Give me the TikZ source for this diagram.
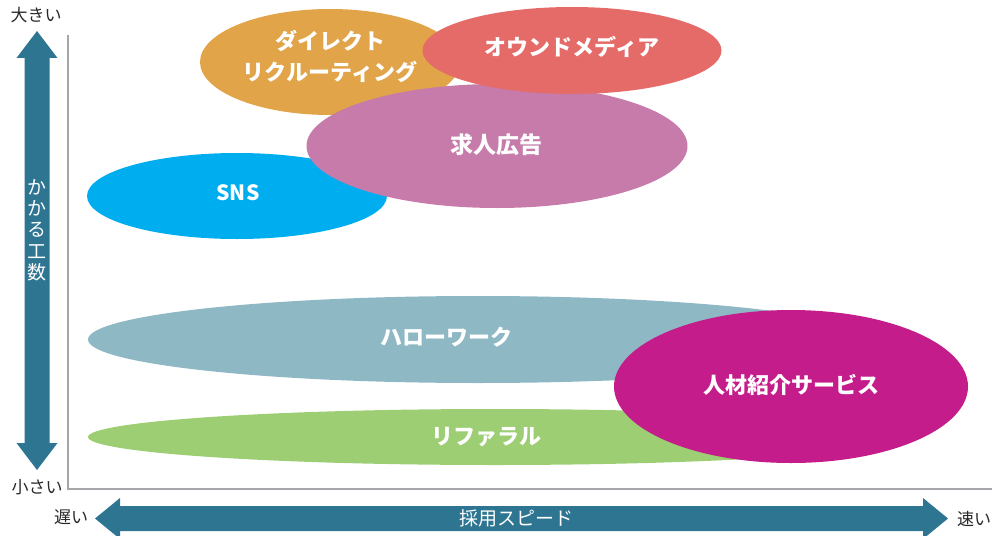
\documentclass[tikz,border=0pt]{standalone}
\usepackage{fontspec}
\setmainfont{Noto Sans CJK JP}
\usetikzlibrary{shapes.geometric}
\definecolor{cOrange}{RGB}{226,164,73}
\definecolor{cRed}{RGB}{229,107,105}
\definecolor{cPink}{RGB}{199,123,170}
\definecolor{cCyan}{RGB}{0,174,239}
\definecolor{cHello}{RGB}{143,184,197}
\definecolor{cGreen}{RGB}{157,206,116}
\definecolor{cMagenta}{RGB}{196,28,138}
\definecolor{cArrow}{RGB}{46,117,146}
\definecolor{cAxis}{RGB}{165,165,170}
\definecolor{cLabel}{RGB}{40,40,40}
\tikzset{
  blob/.style={ellipse, inner sep=0pt, draw=none},
  blobtext/.style={text=white, font=\bfseries\fontsize{22}{31}\selectfont, align=center, inner sep=0pt},
  axislabel/.style={text=cLabel, font=\fontsize{17}{20}\selectfont, inner sep=0pt},
  arrowtext/.style={text=white, font=\fontsize{19}{21.3}\selectfont, inner sep=0pt, align=center},
}
\begin{document}
\begin{tikzpicture}[x=1pt,y=-1pt]
\useasboundingbox (0,0) rectangle (992,535);
\clip (0,0) rectangle (992,535);
% axes
\draw[cAxis, line width=2.5pt] (68,35) -- (68,489) -- (992,489);
% vertical arrow
\fill[cArrow] (37,31) -- (57.5,58) -- (49.5,58) -- (49.5,443) -- (57.5,443) -- (37,470)
  -- (16.5,443) -- (24.5,443) -- (24.5,58) -- (16.5,58) -- cycle;
% horizontal arrow
\fill[cArrow] (95,518.5) -- (120,498) -- (120,506) -- (923,506) -- (923,498) -- (948,518.5)
  -- (923,539) -- (923,531) -- (120,531) -- (120,539) -- cycle;
\node[arrowtext] (vlab) at (37,230) {か\\か\\る\\工\\数};
\node[arrowtext] (hlab) at (516,518) {採用スピード};
\node[axislabel] (big) at (36,15) {大きい};
\node[axislabel] (small) at (37,487) {小さい};
\node[axislabel] (slow) at (71,517) {遅い};
\node[axislabel] (fast) at (974,519) {速い};
% ellipses
\node[blob, fill=cOrange, minimum width=260pt, minimum height=106pt] (direct) at (330,62) {};
\node[blob, fill=cCyan, minimum width=300pt, minimum height=86pt] (sns) at (237,196) {};
\node[blob, fill=cPink, minimum width=381pt, minimum height=124pt] (kyujin) at (497,146) {};
\node[blob, fill=cRed, minimum width=299pt, minimum height=87pt] (owned) at (572,50.5) {};
\node[blob, fill=cHello, minimum width=780pt, minimum height=87pt] (hello) at (478,339.5) {};
\node[blob, fill=cGreen, minimum width=814pt, minimum height=56pt] (referral) at (495,437) {};
\node[blob, fill=cMagenta, minimum width=354pt, minimum height=153pt] (jinzai) at (791,386.5) {};
% ellipse texts
\node[blobtext] (tdirect) at (330,56) {ダイレクト\\リクルーティング};
\node[blobtext] (towned) at (572,47) {オウンドメディア};
\node[blobtext, font=\bfseries\fontsize{23}{28}\selectfont] (tkyujin) at (496,145) {求人広告};
\node[blobtext, font=\bfseries\fontsize{21}{25}\selectfont] (tsns) at (238,193) {SNS};
\node[blobtext] (thello) at (446,337) {ハローワーク};
\node[blobtext] (treferral) at (486,437) {リファラル};
\node[blobtext] (tjinzai) at (791,385) {人材紹介サービス};
\end{tikzpicture}
\end{document}
